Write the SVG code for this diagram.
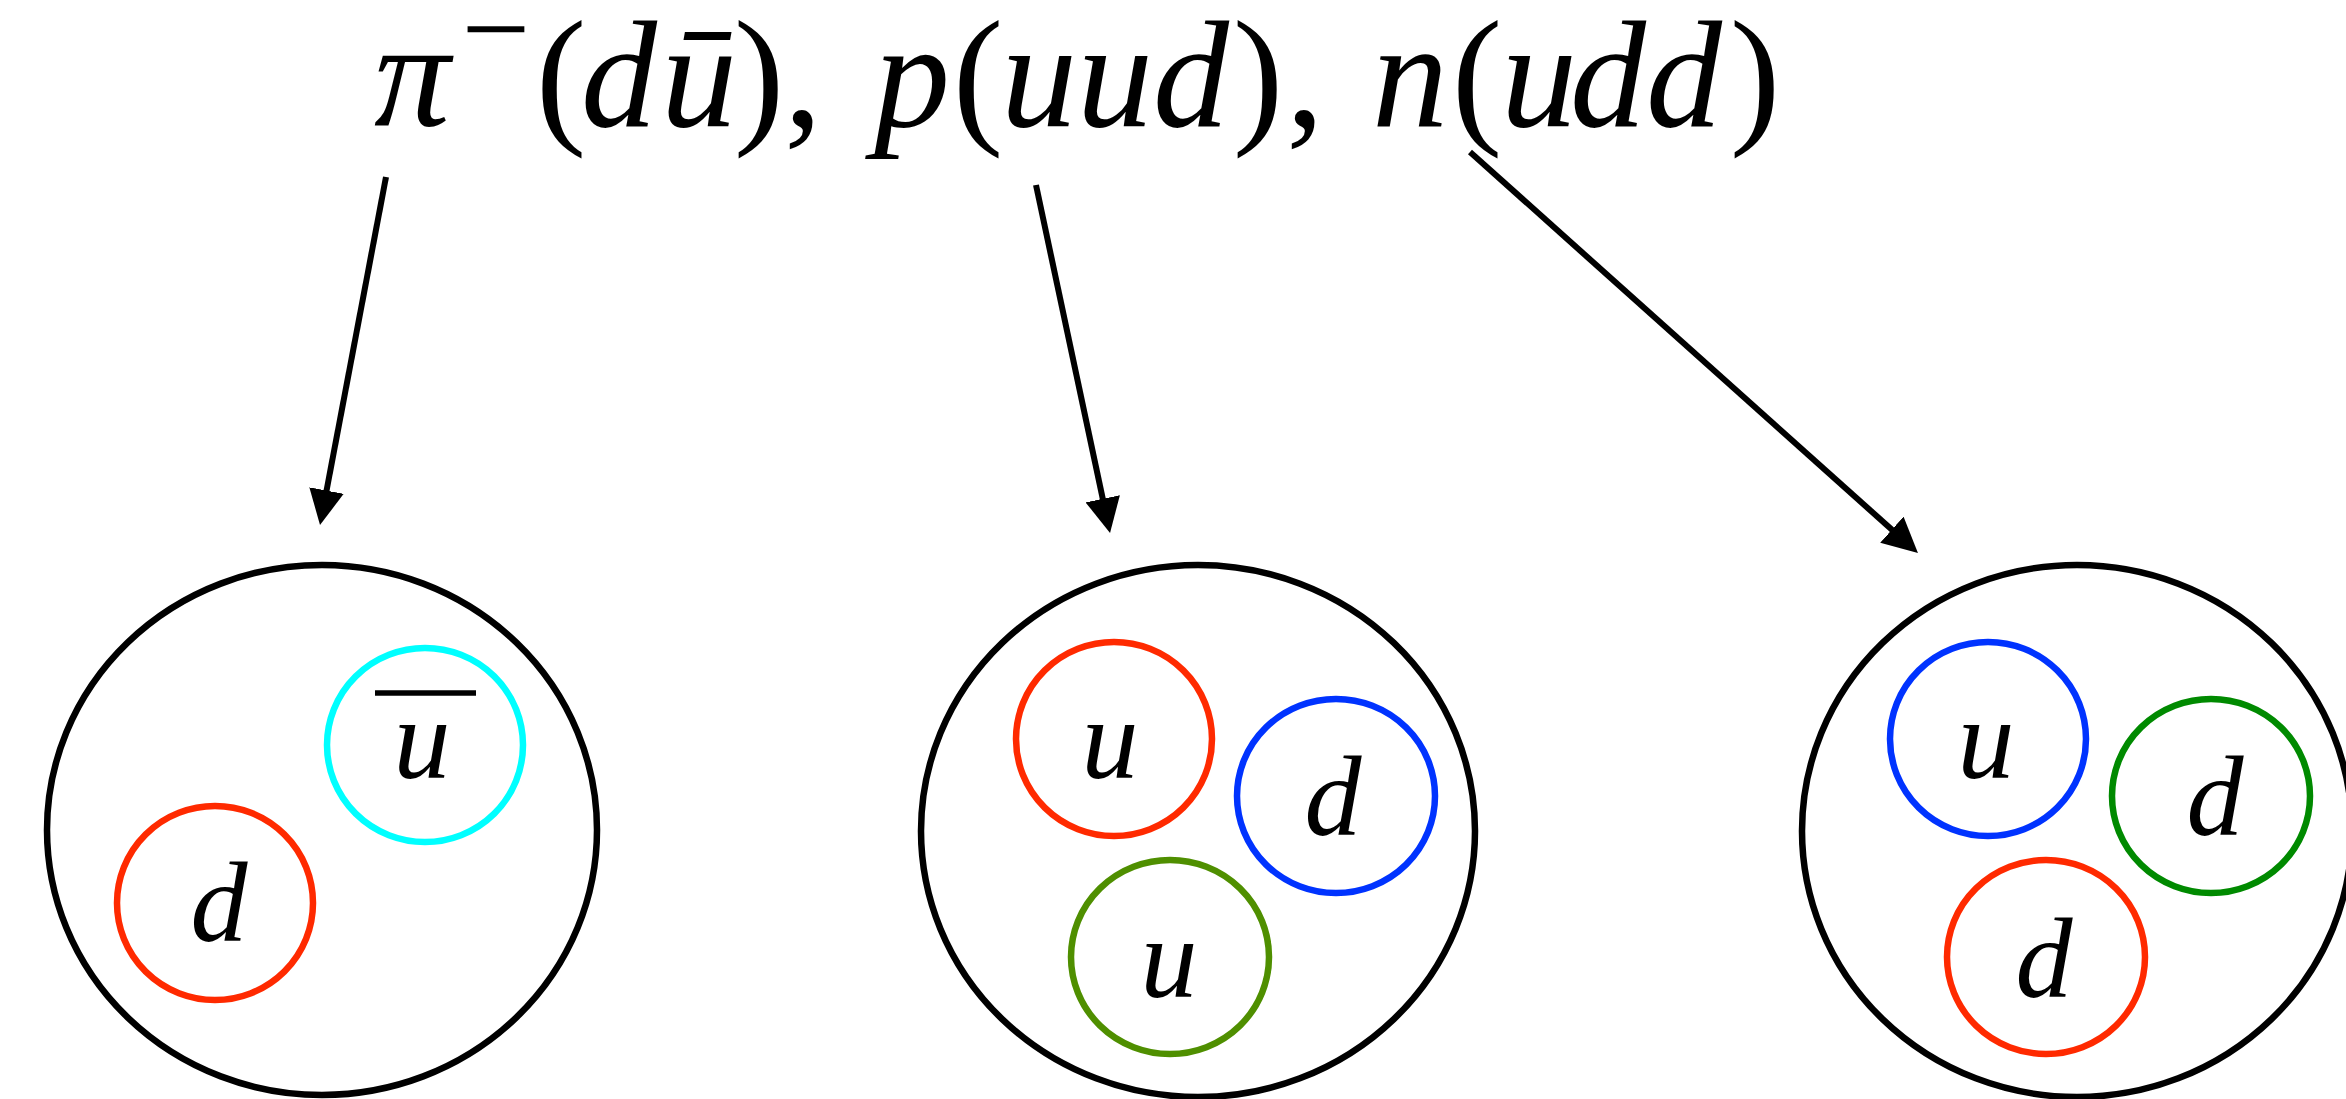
<svg xmlns="http://www.w3.org/2000/svg" width="2346" height="1099" viewBox="0 0 2346 1099">
  <defs>
    <style>
      .hadron { fill: none; stroke: #000; stroke-width: 6.5; }
      .quark { fill: none; stroke-width: 6.5; }
      .red { stroke: #ff2a00; }
      .cyan { stroke: #00ffff; }
      .blue { stroke: #0033ff; }
      .olive { stroke: #4f8f00; }
      .green { stroke: #008a00; }
      .serif { font-family: "Liberation Serif", "Times New Roman", serif; fill: #000; }
      .title { font-size: 152px; font-style: normal; }
      .i { font-style: italic; }
      .q { font-size: 114px; font-style: italic; text-anchor: middle; }
      .conn { stroke: #000; stroke-width: 6; fill: none; marker-end: url(#head); }
    </style>
    <marker id="head" viewBox="0 0 35 35" refX="5" refY="17.5" markerWidth="35" markerHeight="35" markerUnits="userSpaceOnUse" orient="auto">
      <path d="M0,0 L35,17.5 L0,35 Z" fill="#000"/>
    </marker>
  </defs>
  <rect width="2346" height="1099" fill="#fff"/>

  <g id="title">
    <text class="serif title" y="126"><tspan class="i" x="374">π</tspan><tspan x="461.5" y="70" font-size="122">−</tspan><tspan x="535.7" y="126">(</tspan><tspan class="i" x="581 661">dū</tspan><tspan x="733.7 784">),</tspan><tspan class="i" x="874">p</tspan><tspan x="952.7">(</tspan><tspan class="i" x="1001 1077 1153">uud</tspan><tspan x="1232.7 1286">),</tspan><tspan class="i" x="1372">n</tspan><tspan x="1451.7">(</tspan><tspan class="i" x="1501 1570 1646">udd</tspan><tspan x="1729.7">)</tspan></text>
  </g>

  <g id="connectors">
    <line class="conn" x1="386" y1="177" x2="325.6" y2="495.5"/>
    <line class="conn" x1="1036" y1="185" x2="1103.8" y2="503.7"/>
    <line class="conn" x1="1470" y1="152" x2="1895.6" y2="533"/>
  </g>

  <g id="pion">
    <ellipse class="hadron" cx="322" cy="830" rx="275" ry="265"/>
    <g id="pion-d">
      <ellipse class="quark red" cx="215" cy="903" rx="98" ry="97"/>
      <text class="serif q" x="219" y="941">d</text>
    </g>
    <g id="pion-ubar">
      <ellipse class="quark cyan" cx="425" cy="745" rx="98" ry="97"/>
      <line x1="375" y1="693" x2="476" y2="693" stroke="#000" stroke-width="5.5"/>
      <text class="serif q" x="422" y="778">u</text>
    </g>
  </g>

  <g id="proton">
    <ellipse class="hadron" cx="1198" cy="831" rx="277" ry="266"/>
    <g id="proton-u1">
      <ellipse class="quark red" cx="1114" cy="739" rx="98" ry="97"/>
      <text class="serif q" x="1110" y="778">u</text>
    </g>
    <g id="proton-d">
      <ellipse class="quark blue" cx="1336" cy="796" rx="99" ry="97"/>
      <text class="serif q" x="1333" y="835">d</text>
    </g>
    <g id="proton-u2">
      <ellipse class="quark olive" cx="1170" cy="957" rx="99" ry="97"/>
      <text class="serif q" x="1169" y="997">u</text>
    </g>
  </g>

  <g id="neutron">
    <ellipse class="hadron" cx="2077" cy="831" rx="275" ry="266"/>
    <g id="neutron-u">
      <ellipse class="quark blue" cx="1988" cy="739" rx="98" ry="97"/>
      <text class="serif q" x="1986" y="778">u</text>
    </g>
    <g id="neutron-d1">
      <ellipse class="quark green" cx="2211" cy="796" rx="99" ry="97"/>
      <text class="serif q" x="2215" y="835">d</text>
    </g>
    <g id="neutron-d2">
      <ellipse class="quark red" cx="2046" cy="957" rx="99" ry="97"/>
      <text class="serif q" x="2044" y="997">d</text>
    </g>
  </g>
</svg>
